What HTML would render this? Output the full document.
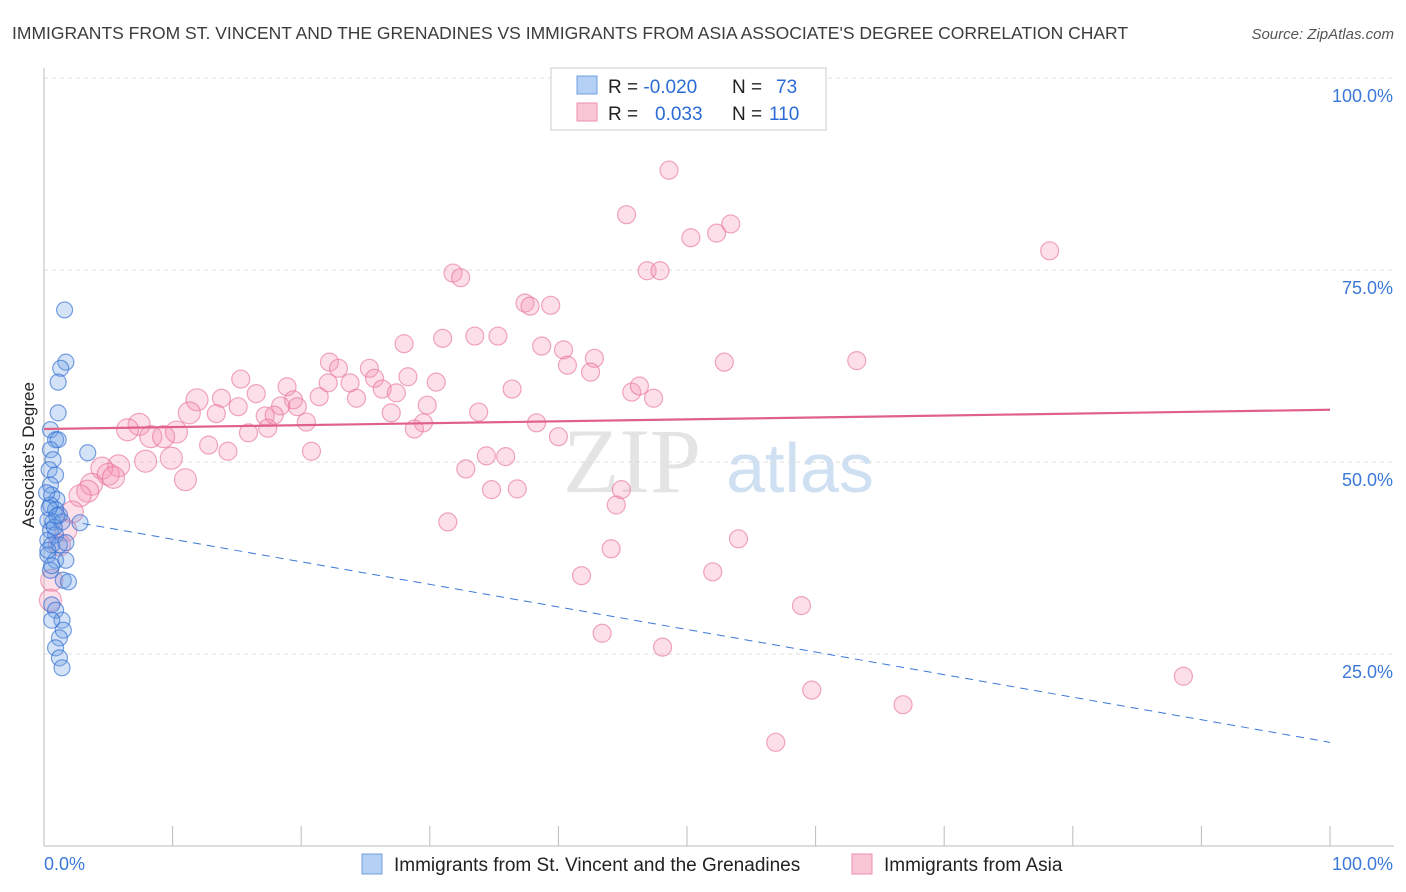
<!DOCTYPE html>
<html><head><meta charset="utf-8"><style>
body{margin:0;background:#fff;font-family:"Liberation Sans",sans-serif}
svg{display:block}
</style></head><body>
<svg id="chart" width="1406" height="892">
<text x="12" y="39" font-size="17.5" fill="#3c3c3c">IMMIGRANTS FROM ST. VINCENT AND THE GRENADINES VS IMMIGRANTS FROM ASIA ASSOCIATE'S DEGREE CORRELATION CHART</text>
<text x="1394" y="39" font-size="15" fill="#555" font-style="italic" text-anchor="end">Source: ZipAtlas.com</text>
<g><text x="632" y="492" font-size="92" fill="#e4e4e4" font-family="Liberation Serif,serif" text-anchor="middle">ZIP</text><text x="800" y="492" font-size="70" fill="#cfe0f3" text-anchor="middle">atlas</text></g>
<g id="grid"></g><g id="axes"></g><g id="pts"></g><g id="lines"></g>
<text transform="translate(34,455) rotate(-90)" font-size="17" fill="#222" text-anchor="middle">Associate's Degree</text>
<g>
<rect x="551" y="68" width="275" height="62" fill="#fff" stroke="#ccc"/>
<rect x="577" y="76" width="20" height="18" fill="#b5d0f5" stroke="#6f9fe0"/>
<rect x="577" y="103" width="20" height="18" fill="#f9c6d5" stroke="#ec90ad"/>
<text x="608" y="93" font-size="19" fill="#222">R = <tspan fill="#2c6bd6">-0.020</tspan><tspan x="732">N = </tspan><tspan x="776" fill="#2c6bd6">73</tspan></text>
<text x="608" y="120" font-size="19" fill="#222">R = <tspan x="655" fill="#2c6bd6">0.033</tspan><tspan x="732">N = </tspan><tspan x="769" fill="#2c6bd6">110</tspan></text>
</g>
<g>
<rect x="362" y="854" width="20" height="20" fill="#b5d0f5" stroke="#6f9fe0"/>
<text x="394" y="871" font-size="19" fill="#222">Immigrants from St. Vincent and the Grenadines</text>
<rect x="852" y="854" width="20" height="20" fill="#f9c6d5" stroke="#ec90ad"/>
<text x="884" y="871" font-size="19" fill="#222">Immigrants from Asia</text>
</g>
</svg>
<script>
const yTicks=[25,50,75,100];
const yTickLabels=["25.0%","50.0%","75.0%","100.0%"];
const blueX=[1.6,1.7,1.3,1.1,1.1,3.4,0.5,0.9,1.1,0.5,0.7,0.4,0.9,0.5,0.6,1.0,0.5,0.9,1.2,0.3,0.7,1.4,2.8,0.5,0.9,0.3,0.6,1.2,1.7,0.3,0.9,1.7,0.5,1.5,1.9,0.6,0.9,1.4,0.6,1.5,1.2,0.9,1.2,1.4,0.2,0.4,0.8,0.3,0.6,1.0];
const blueY=[69.8,63.0,62.2,60.4,56.4,51.2,54.2,52.9,52.9,51.6,50.3,49.0,48.3,47.0,45.7,45.1,44.4,43.8,43.1,42.4,42.2,42.2,42.1,41.1,40.5,39.8,39.2,39.2,39.5,37.9,37.2,37.2,35.9,34.6,34.4,31.4,30.7,29.4,29.4,28.1,27.1,25.8,24.5,23.2,46.0,44.0,41.5,38.5,36.5,43.0];
const pinkX=[48.6,45.3,53.4,52.3,50.3,78.2,31.8,32.4,46.9,47.9,37.4,37.8,39.4,33.5,35.3,31.0,28.0,38.7,40.4,42.8,40.7,42.5,52.9,63.2,22.2,22.9,25.3,25.7,23.8,22.1,28.3,30.5,26.3,27.4,18.9,15.3,16.5,11.9,13.8,15.1,19.4,19.7,18.4,21.4,24.3,36.4,45.7,46.3,47.4,29.8,27.0,33.8,11.3,13.4,17.2,17.9,20.4,29.5,28.8,38.3,7.4,6.5,10.3,8.3,9.3,15.9,17.4,40.0,12.8,14.3,20.8,9.9,7.9,34.4,35.9,5.8,4.5,5.0,5.4,32.8,11.0,3.7,3.4,34.8,36.8,44.9,2.8,44.5,2.2,31.4,1.7,54.0,1.2,44.1,41.8,52.0,0.6,0.5,58.9,43.4,48.1,88.6,59.7,66.8,56.9];
const pinkY=[88.0,82.2,81.0,79.8,79.2,77.5,74.6,74.0,74.9,74.9,70.7,70.3,70.4,66.4,66.4,66.1,65.4,65.1,64.6,63.5,62.6,61.7,63.0,63.2,63.0,62.2,62.2,60.9,60.3,60.3,61.1,60.4,59.5,59.0,59.8,60.8,58.9,58.1,58.3,57.2,58.1,57.2,57.3,58.5,58.3,59.5,59.1,59.9,58.3,57.4,56.4,56.5,56.4,56.3,56.0,56.1,55.2,55.1,54.3,55.1,54.9,54.2,53.9,53.3,53.3,53.8,54.4,53.3,52.2,51.4,51.4,50.5,50.1,50.8,50.7,49.5,49.2,48.4,48.0,49.1,47.7,47.1,46.2,46.4,46.5,46.4,45.6,44.4,43.5,42.2,41.1,40.0,39.2,38.7,35.2,35.7,34.6,32.0,31.3,27.7,25.9,22.1,20.3,18.4,13.5];
const blueTrend=[42.0,13.5];
const pinkTrend=[54.3,56.8];
const X=v=>44+v*12.86, Y=v=>846-v*7.68;
const NS="http://www.w3.org/2000/svg";
function mk(p,t,a){const e=document.createElementNS(NS,t);for(const k in a)e.setAttribute(k,a[k]);p.appendChild(e);return e;}
const grid=document.getElementById('grid'),axes=document.getElementById('axes'),pts=document.getElementById('pts'),lines=document.getElementById('lines');
yTicks.forEach((t,i)=>{
 const g=mk(grid,'line',{x1:44,x2:1394,y1:Y(t),y2:Y(t),stroke:'#ddd','stroke-dasharray':'4,4'});
 
 
 const l=mk(grid,'text',{x:1393,y:Y(t)+24,'font-size':18,fill:'#3b78d8','text-anchor':'end'});
 l.textContent=yTickLabels[i];
 
 
});
const ya=mk(axes,'line',{x1:44,x2:44,y1:68,y2:846,stroke:'#bbb'});


const xa=mk(axes,'line',{x1:44,x2:1394,y1:846,y2:846,stroke:'#bbb'});


for(let i=1;i<=10;i++){const t=mk(axes,'line',{x1:X(i*10),x2:X(i*10),y1:826,y2:846,stroke:'#bbb'});
 
 }
const x0=mk(axes,'text',{x:44,y:870,'font-size':18,fill:'#3b78d8'});x0.textContent='0.0%';


const x1=mk(axes,'text',{x:1393,y:870,'font-size':18,fill:'#3b78d8','text-anchor':'end'});x1.textContent='100.0%';


pinkX.forEach((v,i)=>{const r=v<12?11:9;const c=mk(pts,'circle',{cx:X(v),cy:Y(pinkY[i]),r:r,fill:'rgba(244,150,180,0.3)',stroke:'rgba(230,110,150,0.6)','stroke-width':1.2});
 
 });
blueX.forEach((v,i)=>{const c=mk(pts,'circle',{cx:X(v),cy:Y(blueY[i]),r:8,fill:'rgba(110,160,230,0.3)',stroke:'rgba(50,110,210,0.65)','stroke-width':1.2});
 
 });
const bl=mk(lines,'line',{x1:X(3),y1:Y(blueTrend[0]),x2:X(100),y2:Y(blueTrend[1]),stroke:'#3b78d8','stroke-dasharray':'8,6','stroke-width':1});


const pl=mk(lines,'line',{x1:X(0),y1:Y(pinkTrend[0]),x2:X(100),y2:Y(pinkTrend[1]),stroke:'#e0608a','stroke-width':2.2});


</script>
</body></html>
